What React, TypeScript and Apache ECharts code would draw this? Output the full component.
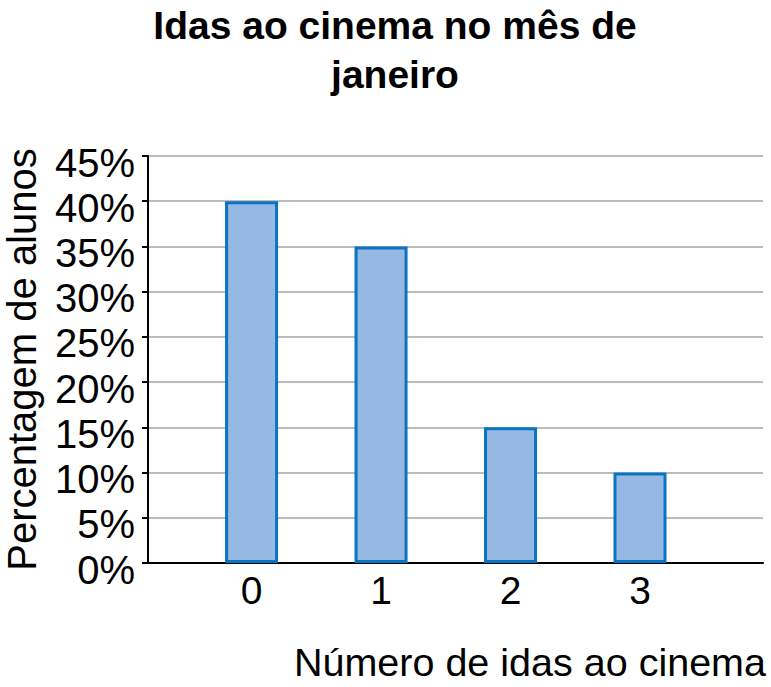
import {useEffect, useRef} from 'react';
import * as echarts from 'echarts';

const idas = [0, 1, 2, 3];
const percentagens = [40, 35, 15, 10];
const yTicks = [0, 5, 10, 15, 20, 25, 30, 35, 40, 45];

const font = 'Liberation Sans, Arial, sans-serif';

const App = () => {
    const chartRef = useRef<HTMLDivElement>(null);

    useEffect(() => {
        const myChart = echarts.init(chartRef.current!, null, {renderer: 'svg'});

        myChart.setOption({
            animation: false,
            textStyle: {fontFamily: font},
            title: {
                text: 'Idas ao cinema no mês de\njaneiro',
                left: 390,
                top: -4,
                textAlign: 'center',
                textStyle: {
                    fontFamily: font,
                    fontSize: 39,
                    fontWeight: 'bold',
                    color: '#000',
                    lineHeight: 49,
                },
            },
            grid: {left: 148, right: 8, top: 156, bottom: 124, outerBoundsMode: 'none'},
            xAxis: {
                type: 'value',
                min: -0.8,
                max: 3.95,
                axisLine: {onZero: false, lineStyle: {color: '#000', width: 2}},
                axisTick: {show: false},
                splitLine: {show: false},
                axisLabel: {
                    customValues: idas,
                    formatter: (v: number) => String(v),
                    fontSize: 39,
                    color: '#000',
                    margin: 8,
                },
            },
            yAxis: {
                type: 'value',
                min: 0,
                max: yTicks[yTicks.length - 1],
                interval: 5,
                name: 'Percentagem de alunos',
                nameLocation: 'middle',
                nameRotate: 90,
                nameGap: 106,
                nameTextStyle: {fontSize: 40, color: '#000', fontFamily: font},
                axisLine: {show: true, onZero: false, lineStyle: {color: '#000', width: 2}},
                axisTick: {show: true, length: 6, lineStyle: {color: '#000', width: 2}},
                splitLine: {lineStyle: {color: '#a6a6a6', width: 1.5}},
                axisLabel: {
                    formatter: '{value}%',
                    fontSize: 40,
                    color: '#000',
                    margin: 13,
                    verticalAlign: 'top',
                    lineHeight: 13,
                },
            },
            graphic: [
                {
                    type: 'text',
                    x: 766,
                    y: 662,
                    style: {
                        text: 'Número de idas ao cinema',
                        font: `39.5px ${font}`,
                        fill: '#000',
                        align: 'right',
                        verticalAlign: 'middle',
                    },
                },
            ],
            series: [
                {
                    type: 'bar',
                    data: idas.map((x, i) => [x, percentagens[i]]),
                    barWidth: 53,
                    itemStyle: {
                        color: '#95b9e3',
                        borderColor: '#0a74c4',
                        borderWidth: 3,
                    },
                },
            ],
        });

        return () => {
            myChart.dispose();
        };
    }, []);

    return (
        <div
            ref={chartRef}
            style={{position: 'fixed', left: 0, top: 0, width: '771px', height: '687px', background: '#fff'}}
        />
    );
};

export default App;
